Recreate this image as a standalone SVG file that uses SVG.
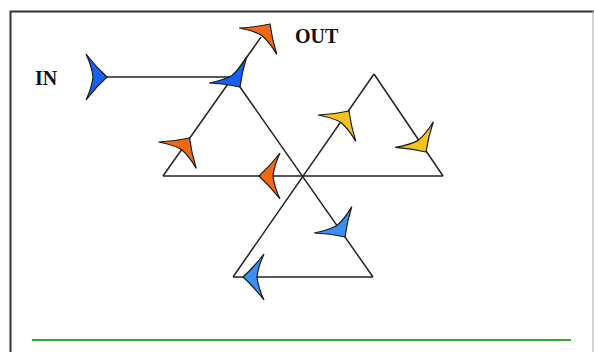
<svg xmlns="http://www.w3.org/2000/svg" xmlns:xlink="http://www.w3.org/1999/xlink" width="594" height="352" viewBox="0 0 594 352">
<style>
.ln{stroke:#222;stroke-width:1.5;fill:none}
.ar{stroke:#1a1a1a;stroke-width:1.2;stroke-linejoin:miter}
.b1{fill:#1660f2}
.b2{fill:#3a8ff0}
.or{fill:#f4690f}
.ye{fill:#f6c21a}
.lbl{font-family:"Liberation Serif",serif;font-weight:bold;font-size:20px;fill:#111}
</style>
<defs>
<path id="arr" d="M0,0 Q-11,-10 -21,-23 Q-15,-10 -14,0 Q-15,10 -21,23 Q-11,10 0,0 Z"/>
</defs>
<rect x="0" y="0" width="594" height="352" fill="#fff"/>
<g id="frame">
<path d="M10.5,352 V11.5 H594" fill="none" stroke="#333" stroke-width="2"/>
<line x1="593" y1="11" x2="593" y2="352" stroke="#aaa" stroke-width="1"/>
<line x1="32" y1="340" x2="571" y2="340" stroke="#3ba534" stroke-width="2"/>
</g>
<g id="connectors">
<line class="ln" x1="107" y1="77" x2="233" y2="77"/>
<line class="ln" x1="163" y1="176" x2="261" y2="37"/>
<line class="ln" x1="233" y1="77" x2="373" y2="277"/>
<line class="ln" x1="374" y1="74" x2="233" y2="277"/>
<line class="ln" x1="163" y1="176" x2="443" y2="176"/>
<line class="ln" x1="374" y1="74" x2="443" y2="176"/>
<line class="ln" x1="233" y1="277" x2="373" y2="277"/>
</g>
<g id="arrows">
<use xlink:href="#arr" class="ar b1" transform="translate(107,77)"/>
<use xlink:href="#arr" class="ar b1" transform="translate(240,87) rotate(55)"/>
<use xlink:href="#arr" class="ar or" transform="translate(270,24) rotate(-55)"/>
<use xlink:href="#arr" class="ar or" transform="translate(189.5,138) rotate(-55)"/>
<use xlink:href="#arr" class="ar or" transform="translate(259,176) rotate(180)"/>
<use xlink:href="#arr" class="ar ye" transform="translate(349,111) rotate(-55)"/>
<use xlink:href="#arr" class="ar ye" transform="translate(426,152) rotate(56)"/>
<use xlink:href="#arr" class="ar b2" transform="translate(345,237) rotate(55)"/>
<use xlink:href="#arr" class="ar b2" transform="translate(243,277) rotate(180)"/>
</g>
<g id="label-in"><text class="lbl" x="35" y="85">IN</text></g>
<g id="label-out"><text class="lbl" x="295" y="43">OUT</text></g>
</svg>
